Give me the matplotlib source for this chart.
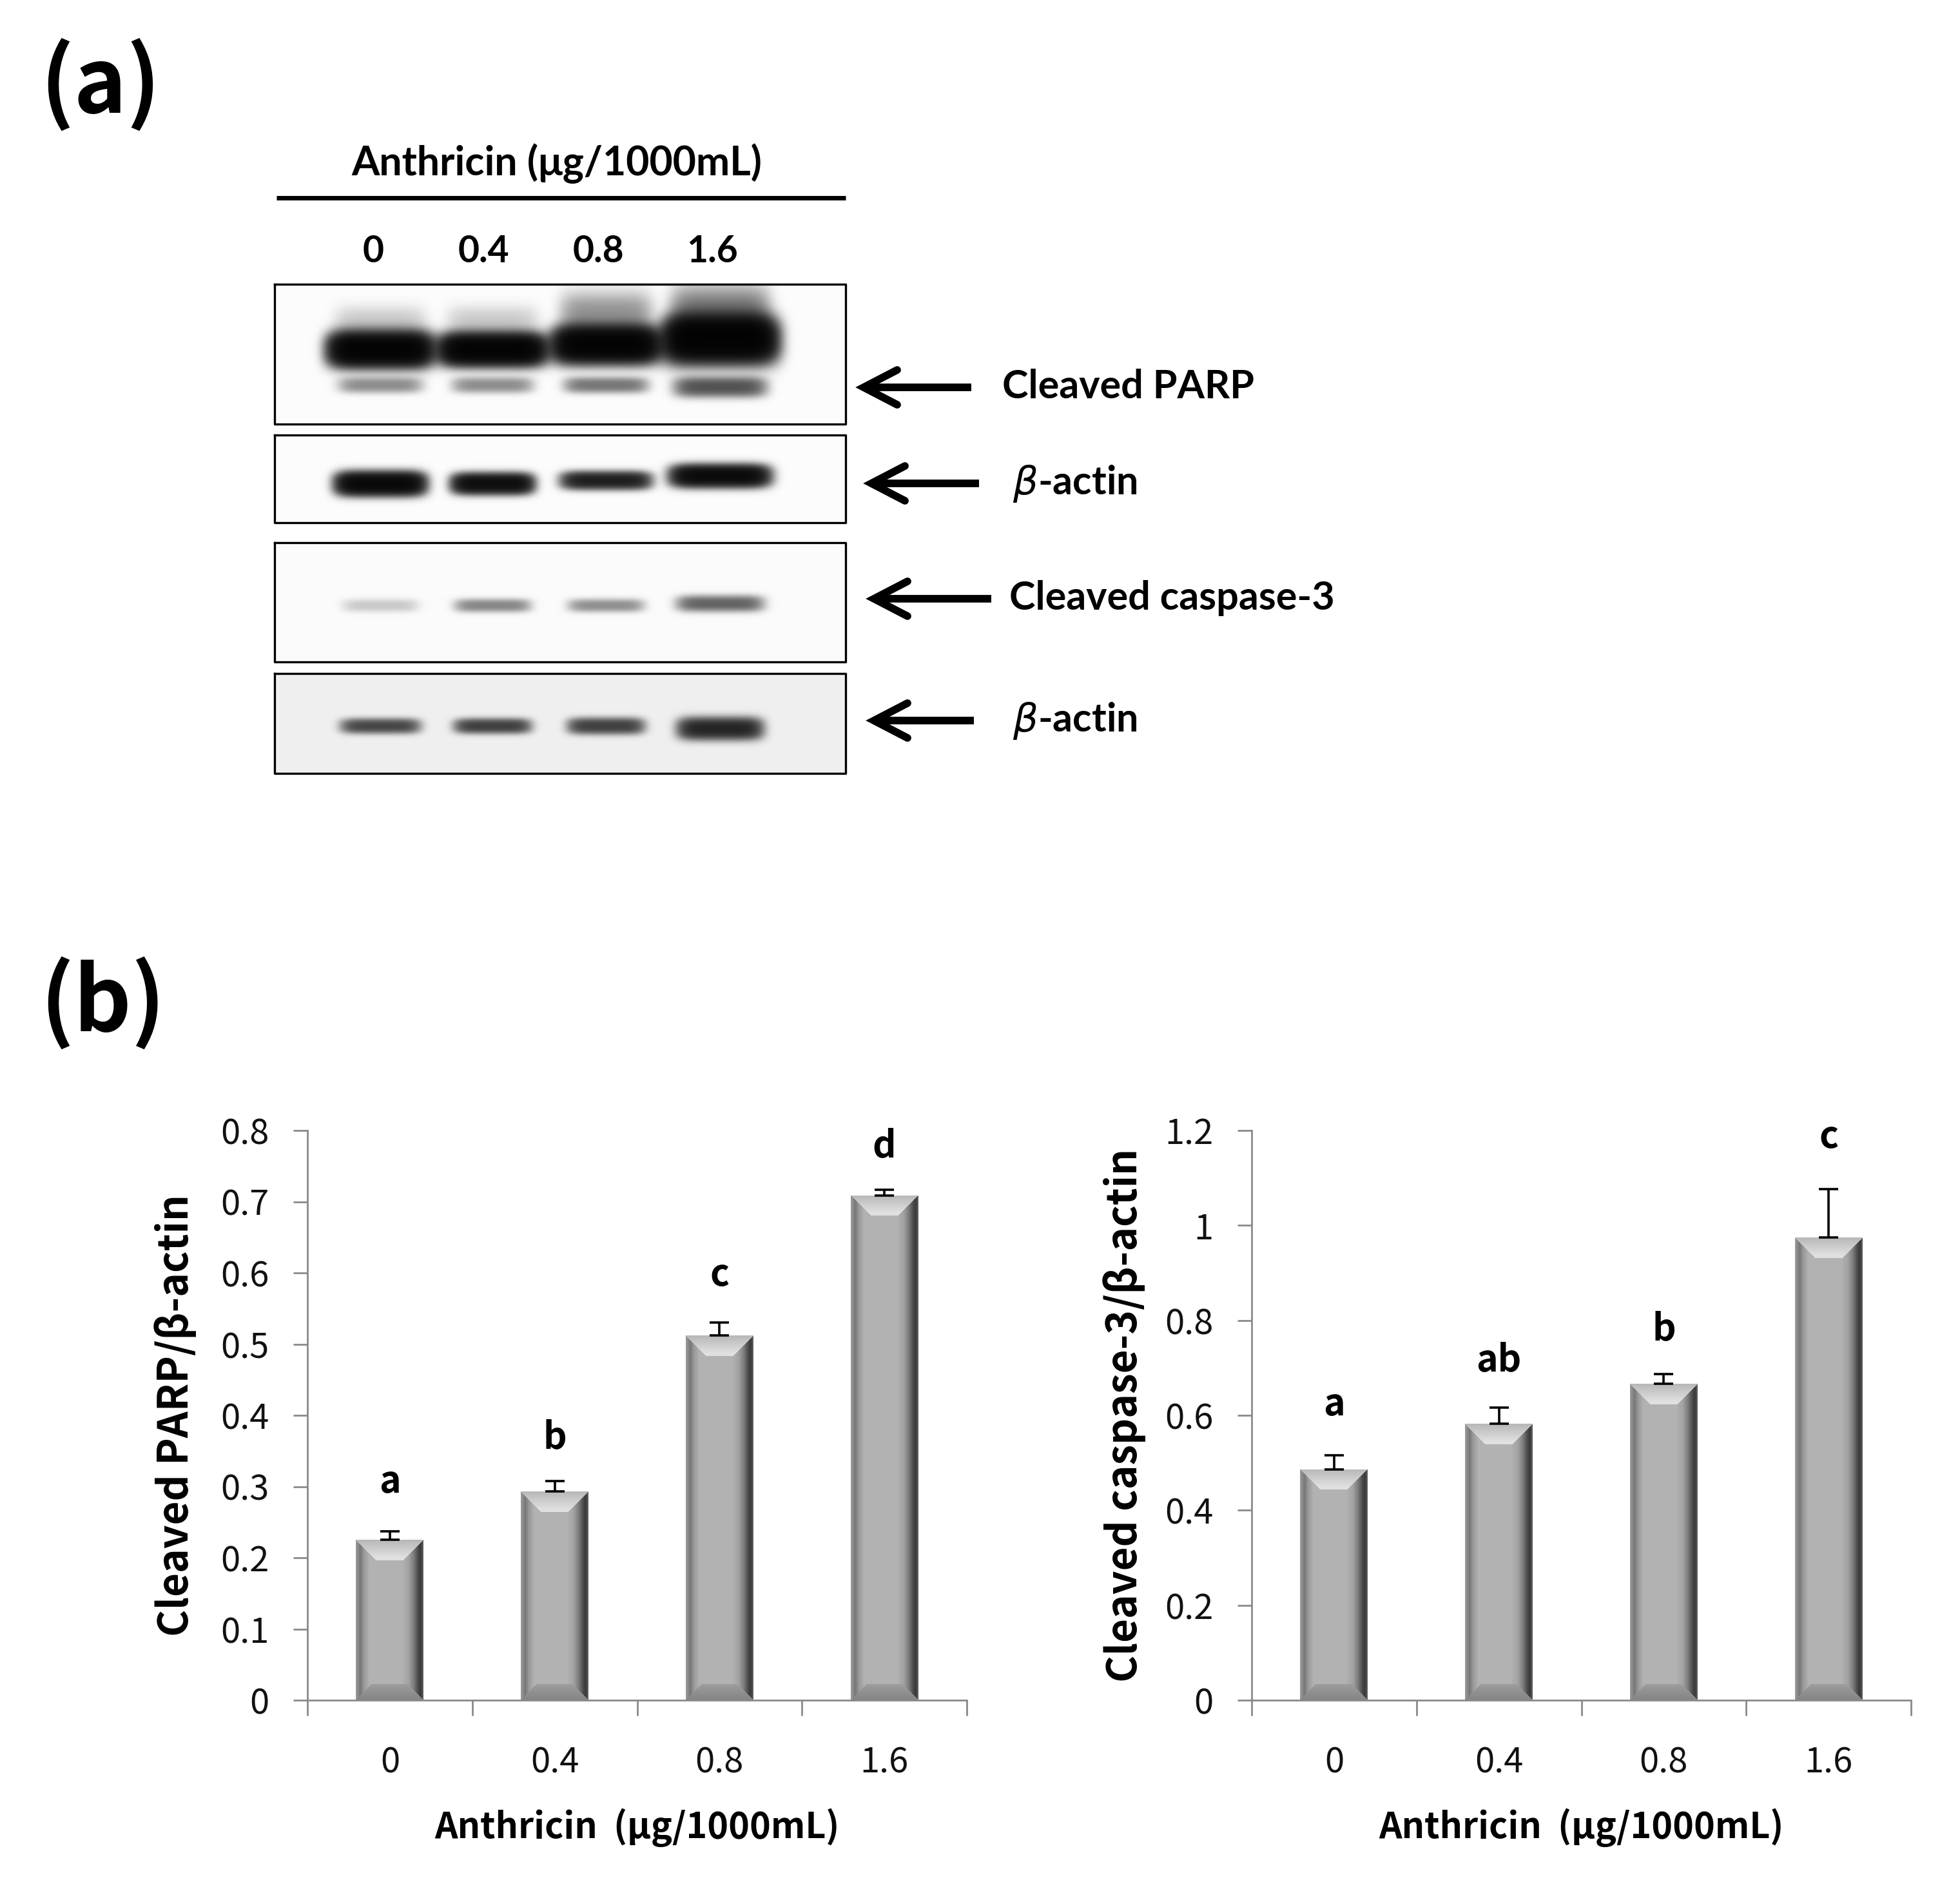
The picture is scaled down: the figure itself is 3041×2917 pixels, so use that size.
import numpy as np
import matplotlib
matplotlib.use("Agg")
import matplotlib.pyplot as plt

# ---- data ----
doses = ["0", "0.4", "0.8", "1.6"]

parp_mean = [0.225, 0.293, 0.512, 0.709]
parp_err = [0.012, 0.015, 0.018, 0.008]
parp_letters = ["a", "b", "c", "d"]
parp_letter_y = [0.291, 0.354, 0.582, 0.763]

casp_mean = [0.486, 0.582, 0.666, 0.974]
casp_err = [0.030, 0.034, 0.021, 0.102]
casp_letters = ["a", "ab", "b", "c"]
casp_letter_y = [0.600, 0.692, 0.758, 1.163]

# western blot band darkness per lane (0, 0.4, 0.8, 1.6)
parp_band = [1.8, 1.8, 1.8, 1.9]
parp_haze = [0.10, 0.10, 0.25, 0.35]
parp_low_band = [0.26, 0.26, 0.34, 0.50]
actin1_band = [1.5, 1.3, 0.95, 1.4]
casp_band = [0.10, 0.28, 0.25, 0.42]
actin2_band = [0.55, 0.60, 0.60, 0.85]
blot_labels = ["Cleaved PARP", r"$\beta$-actin", "Cleaved caspase-3", r"$\beta$-actin"]

W, H = 3041, 2917
fig = plt.figure(figsize=(W / 100, H / 100), dpi=100)
fig.patch.set_facecolor("white")

BLOT_FONT = ["Lato", "DejaVu Sans"]
CHART_FONT = ["Noto Sans CJK KR", "DejaVu Sans"]
plt.rcParams["mathtext.fontset"] = "dejavusans"

# ---- panel (a): blot drawn in pixel space ----
ov = fig.add_axes([0, 0, 1, 1])
ov.axis("off")

lane_x = [590, 764, 940, 1117]
boxes = [(426, 441, 1312, 658), (426, 675, 1312, 811),
         (426, 842, 1312, 1027), (426, 1045, 1312, 1200)]
box_bg = [0.99, 0.99, 0.985, 0.94]

# band rows: (intensities, centre y per lane, half height per lane, half width per lane)
band_rows = [
    [(parp_band, [542, 542, 535, 527], [25, 23, 26, 33], [79, 81, 81, 86]),
     (parp_haze, [500, 500, 490, 485], [25, 25, 35, 40], [70, 70, 70, 75]),
     (parp_low_band, [597, 597, 597, 600], [12, 12, 12, 15], [64, 62, 64, 70])],
    [(actin1_band, [750, 750, 745, 738], [17, 15, 13, 16], [68, 62, 68, 75])],
    [(casp_band, [939, 939, 939, 936], [10, 10, 10, 12], [58, 58, 58, 66])],
    [(actin2_band, [1126, 1126, 1126, 1130], [11, 11, 12, 16], [60, 58, 58, 64])],
]

for (x0, y0, x1, y1), bg, rows in zip(boxes, box_bg, band_rows):
    xs = np.arange(x0, x1)[None, :]
    ys = np.arange(y0, y1)[:, None]
    dark = np.zeros((y1 - y0, x1 - x0))
    for inten, cys, hhs, hws in rows:
        for lx, I, cy, hh, hw in zip(lane_x, inten, cys, hhs, hws):
            prof = (np.exp(-(np.abs(xs - lx) / hw) ** 6)
                    * np.exp(-(np.abs(ys - cy) / hh) ** 2.5))
            dark += I * prof
    val = bg * np.exp(-2.2 * dark)
    ov.imshow(np.dstack([val] * 3), extent=(x0, x1, y1, y0), aspect="auto",
              interpolation="bilinear", zorder=1)
    ov.plot([x0, x1, x1, x0, x0], [y0, y0, y1, y1, y0], color="black", lw=2.4, zorder=2)

ov.text(62, 133, "(a)", fontsize=100, fontweight="bold", family=CHART_FONT,
        ha="left", va="center")
ov.text(62, 1558, "(b)", fontsize=100, fontweight="bold", family=CHART_FONT,
        ha="left", va="center")

ov.text(864, 272, "Anthricin (μg/1000mL)", fontsize=45, fontweight="bold",
        family=BLOT_FONT, ha="center", va="baseline")
ov.plot([429, 1312], [307, 307], color="black", lw=5, solid_capstyle="butt")
for lx, d in zip([579, 750, 928, 1105], doses):
    ov.text(lx, 407, d, fontsize=41, fontweight="bold", family=BLOT_FONT,
            ha="center", va="baseline")

arrow_y = [601, 750, 929, 1118]
arrow_x = [(1340, 1507), (1352, 1519), (1356, 1538), (1356, 1511)]
label_x = [1555, 1571, 1566, 1571]
for (ax0, ax1_), ay, lab, lx in zip(arrow_x, arrow_y, blot_labels, label_x):
    ov.plot([ax0, ax1_], [ay, ay], color="black", lw=8.5, solid_capstyle="butt")
    ov.plot([ax0 + 52, ax0, ax0 + 52], [ay - 27, ay, ay + 27], color="black", lw=8.5,
            solid_capstyle="round", solid_joinstyle="miter")
    ov.text(lx, ay + 17, lab, fontsize=44, fontweight="bold", family=BLOT_FONT,
            ha="left", va="baseline")

ov.set_xlim(0, W)
ov.set_ylim(H, 0)

# ---- panel (b): bar charts ----
tex_u = [0, 0.03, 0.07, 0.12, 0.2, 0.68, 0.78, 0.86, 0.92, 0.96, 1.0]
tex_g = [0.62, 0.55, 0.47, 0.60, 0.70, 0.70, 0.64, 0.48, 0.30, 0.22, 0.40]


def bar_texture(w, h):
    u = (np.arange(w) + 0.5) / w
    img = np.tile(np.interp(u, tex_u, tex_g), (h, 1))
    r = np.arange(h)[:, None]
    c = np.arange(w)[None, :]
    edge = np.minimum(c, w - 1 - c)
    bev = int(round(0.3 * w))
    top = (r < bev) & (edge >= r)
    topval = 0.72 + 0.16 * np.clip(r / (0.85 * bev), 0, 1)
    img = np.where(top, topval, img)
    rb = h - 1 - r
    bev_b = int(round(0.24 * w))
    bot = (rb < bev_b) & (edge >= rb)
    botval = 0.52 + 0.10 * np.clip(rb / bev_b, 0, 1)
    img = np.where(bot, botval, img)
    return np.dstack([img] * 3)


AXIS_GRAY = "#8a8a8a"
BAR_W = 0.41


def draw_chart(ax, vals, errs, letters, letter_y, ymax, step, ylabel, ylab_x):
    x = np.arange(len(doses))
    ax.set_xlim(-0.5, len(doses) - 0.5)
    ax.set_ylim(0, ymax)
    bars = ax.bar(x, vals, width=BAR_W, color="#a9a9a9", edgecolor="none", zorder=1)
    pos = ax.get_position()
    px_per_unit = pos.height * H / ymax
    bw_px = int(round(BAR_W * pos.width * W / len(doses)))
    for b, v in zip(bars, vals):
        hpx = max(int(round(v * px_per_unit)), 2)
        im = ax.imshow(bar_texture(bw_px, hpx),
                       extent=(b.get_x(), b.get_x() + b.get_width(), 0, v),
                       aspect="auto", interpolation="bilinear", zorder=2)
        im.set_clip_path(b)
    ax.errorbar(x, vals, yerr=[np.zeros(len(vals)), errs], fmt="none", ecolor="black",
                elinewidth=2.6, capsize=11, capthick=2.6, zorder=3)
    for xi, lab, ly in zip(x, letters, letter_y):
        ax.text(xi, ly, lab, fontsize=41, fontweight="bold", family=CHART_FONT,
                ha="center", va="baseline")

    ax.set_xlim(-0.5, len(doses) - 0.5)
    ax.set_ylim(0, ymax)
    ax.set_aspect("auto")
    for s in ["top", "right"]:
        ax.spines[s].set_visible(False)
    for s in ["left", "bottom"]:
        ax.spines[s].set_color(AXIS_GRAY)
        ax.spines[s].set_linewidth(2.0)

    yt = np.arange(0, ymax + step / 2, step)
    ax.set_yticks(yt)
    ax.set_yticklabels(["{:g}".format(round(t, 2)) for t in yt], family=CHART_FONT)
    ax.tick_params(axis="y", direction="out", length=16, width=2.0, color=AXIS_GRAY,
                   pad=27, labelsize=39, labelcolor="#111111")
    ax.set_xticks(x)
    ax.set_xticklabels(doses, family=CHART_FONT)
    ax.set_xticks(np.arange(-0.5, len(doses)), minor=True)
    ax.tick_params(axis="x", which="major", length=0, pad=50, labelsize=39,
                   labelcolor="#111111")
    ax.tick_params(axis="x", which="minor", direction="out", length=17, width=2.0,
                   color=AXIS_GRAY)

    ax.set_xlabel("Anthricin  (μg/1000mL)", fontsize=40, fontweight="bold",
                  family=CHART_FONT, va="baseline")
    ax.xaxis.set_label_coords(0.5, -0.242)
    ax.set_ylabel(ylabel, fontsize=46, fontweight="bold", family=CHART_FONT, va="center")
    ax.yaxis.set_label_coords(ylab_x, 0.5)


bottom = 1 - 2638 / H
height = (2638 - 1754) / H
ax1 = fig.add_axes([477 / W, bottom, 1023 / W, height])
ax2 = fig.add_axes([1942 / W, bottom, 1023 / W, height])

draw_chart(ax1, parp_mean, parp_err, parp_letters, parp_letter_y, 0.8, 0.1,
           "Cleaved PARP/β-actin", -0.199)
draw_chart(ax2, casp_mean, casp_err, casp_letters, casp_letter_y, 1.2, 0.2,
           "Cleaved caspase-3/β-actin", -0.193)

fig.savefig("out.png", dpi=100, facecolor="white")
